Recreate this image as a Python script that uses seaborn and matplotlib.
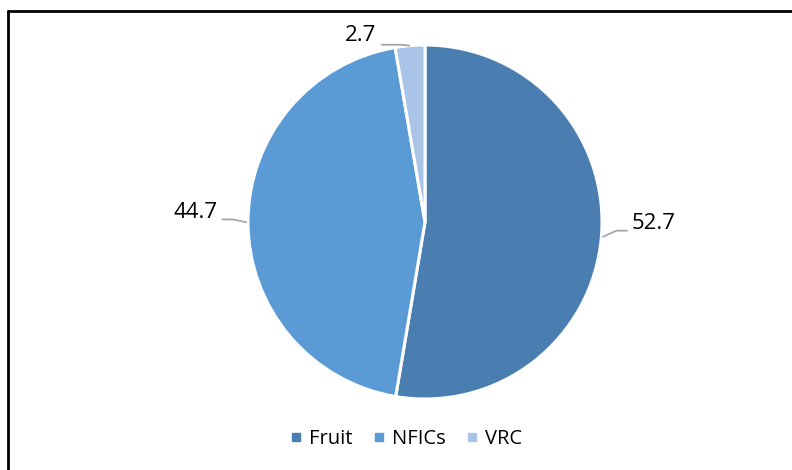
import numpy as np
import seaborn as sns
import matplotlib.pyplot as plt
from matplotlib.lines import Line2D

# Share of each category (%)
categories = ['Fruit', 'NFICs', 'VRC']
shares = [52.7, 44.7, 2.7]
colors = ['#4A7EB1', '#5B9BD5', '#A9C4E6']

# label placement relative to the wedge mid point (data units, radius = 1)
label_offsets = [(0.17, 0.074), (-0.17, 0.056), (-0.19, 0.055)]

sns.set_theme(style='white')
plt.rcParams['font.family'] = ['Open Sans', 'DejaVu Sans']

fig = plt.figure(figsize=(7.92, 4.70), dpi=100)
px = 177  # pie radius in pixels
ax = fig.add_axes([(425 - 1.6 * px) / 792, (248 - 1.2 * px) / 470,
                   3.2 * px / 792, 2.4 * px / 470])

wedges, _ = ax.pie(shares, colors=colors, startangle=90, counterclock=False,
                   radius=1, wedgeprops=dict(edgecolor='white', linewidth=2.2))
ax.set_xlim(-1.6, 1.6)
ax.set_ylim(-1.2, 1.2)
ax.axis('off')

# Data labels with grey leader lines
for w, val, (dx, dy) in zip(wedges, shares, label_offsets):
    ang = np.deg2rad((w.theta1 + w.theta2) / 2)
    xe, ye = np.cos(ang), np.sin(ang)
    tx, ty = xe + dx, ye + dy
    if abs(xe) < 0.3:
        # top label: text sits left of the wedge, line runs under it
        ly = ye + 0.005
        ax.plot([xe - 0.005, xe - 0.05, tx + 0.03], [ye, ly, ly],
                color='#A6A6A6', lw=1.3, solid_capstyle='round')
        ax.text(tx, ty, f'{val}', ha='right', va='center', fontsize=16, color='black')
        continue
    side = 1 if xe > 0 else -1
    ly = ty - 0.04
    ax.plot([xe + side * 0.01, xe + side * 0.085, tx - side * 0.025],
            [ye, ly, ly], color='#A6A6A6', lw=1.3, solid_capstyle='round')
    ax.text(tx, ty, f'{val}', ha='left' if side > 0 else 'right', va='center',
            fontsize=16, color='black')

# Legend at the bottom
handles = [Line2D([], [], marker='s', linestyle='', markersize=5.5,
                  markerfacecolor=c, markeredgecolor=c) for c in colors]
leg = fig.legend(handles, categories, loc='center', bbox_to_anchor=(406 / 792, 31 / 470),
                 ncol=3, frameon=False, fontsize=14.5, handlelength=0.6,
                 handletextpad=0.35, columnspacing=1.0)
for t in leg.get_texts():
    t.set_color('black')

# partial frame (top and left)
fig.add_artist(Line2D([8 / 792, 1], [459 / 470, 459 / 470], transform=fig.transFigure,
                      color='black', lw=2))
fig.add_artist(Line2D([8 / 792, 8 / 792], [0, 459 / 470], transform=fig.transFigure,
                      color='black', lw=2))

fig.savefig('out.png', dpi=100)
